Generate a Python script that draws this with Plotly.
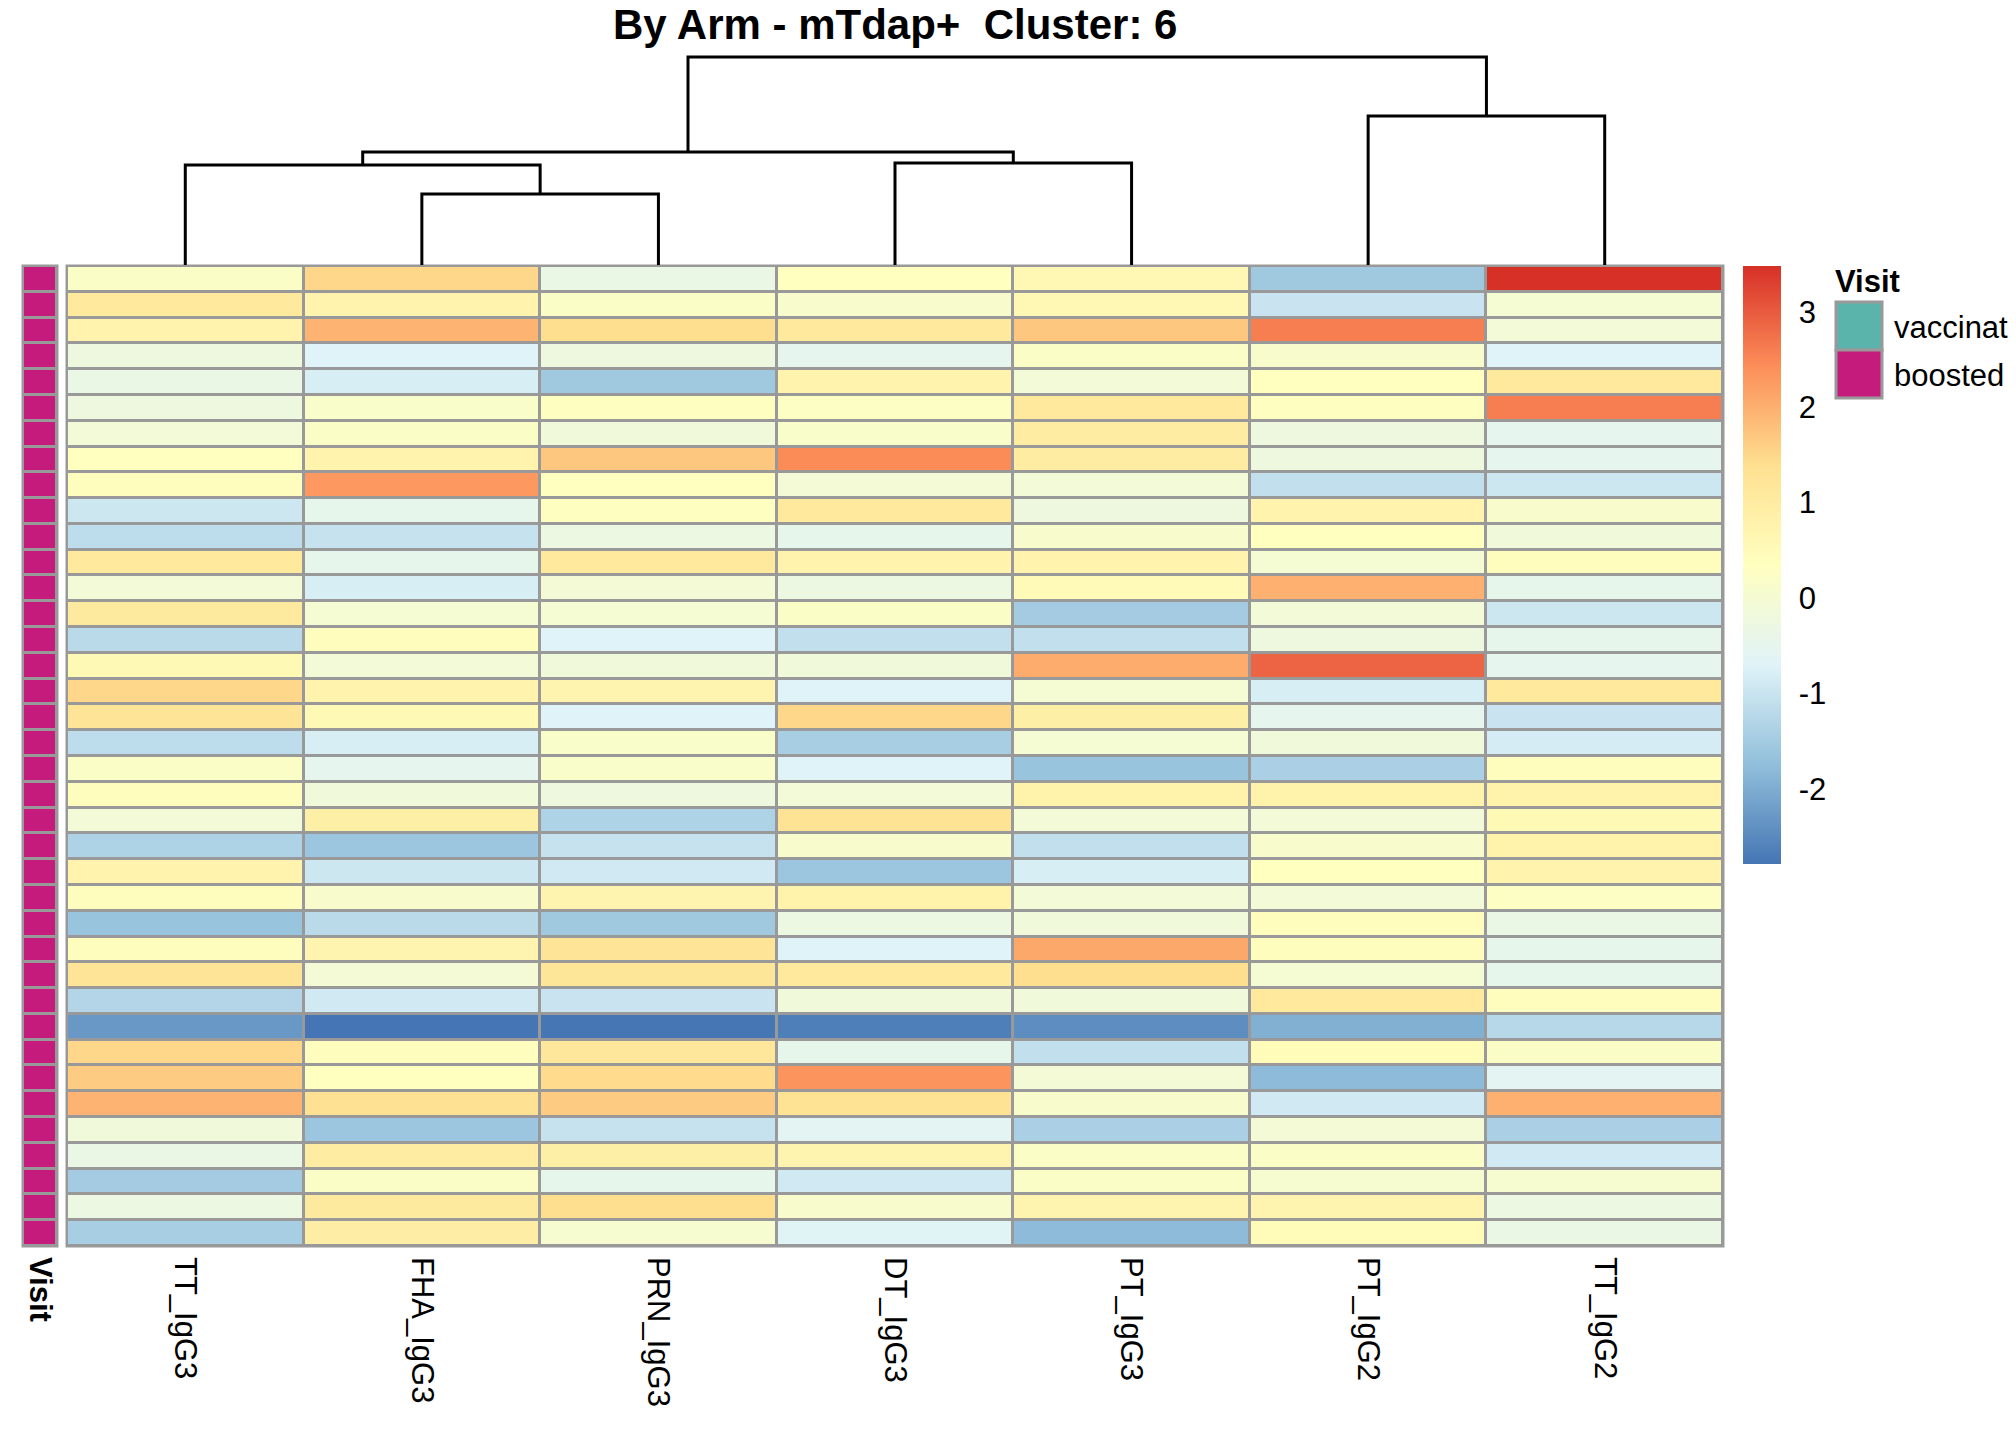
import plotly.graph_objects as go

# ---------------- data ----------------
title_text = "By Arm - mTdap+  Cluster: 6"
columns = ["TT_IgG3", "FHA_IgG3", "PRN_IgG3", "DT_IgG3", "PT_IgG3", "PT_IgG2", "TT_IgG2"]

TT_IgG3 = [0.2, 1.1, 0.75, -0.25, -0.35, -0.25, -0.1, 0.35, 0.4, -0.95, -1.15, 1.1, -0.1, 1.05, -1.2, 0.55, 1.5, 1.25, -1.15,
           0.2, 0.4, -0.1, -1.35, 0.75, 0.4, -1.65, 0.4, 1.25, -1.3, -2.3, 1.5, 1.65, 1.95, -0.15, -0.35, -1.5, -0.3, -1.45]
FHA_IgG3 = [1.5, 0.75, 1.95, -0.7, -0.8, 0.15, 0.2, 0.75, 2.3, -0.45, -1.05, -0.45, -0.8, 0.0, 0.4, -0.1, 0.75, 0.55, -0.8,
            -0.5, -0.15, 0.9, -1.6, -0.95, 0.1, -1.2, 0.7, -0.05, -0.9, -2.79, 0.4, 0.35, 1.35, -1.6, 1.0, 0.2, 1.05, 0.95]
PRN_IgG3 = [-0.35, 0.2, 1.4, -0.25, -1.55, 0.3, -0.15, 1.7, 0.35, 0.3, -0.3, 1.1, -0.05, 0.0, -0.7, -0.15, 0.7, -0.7, 0.15,
            0.15, -0.25, -1.35, -1.05, -0.9, 0.7, -1.55, 1.25, 1.2, -1.0, -2.78, 1.15, 1.45, 1.65, -1.05, 0.9, -0.45, 1.4, 0.05]
DT_IgG3 = [0.35, 0.1, 1.1, -0.5, 0.75, 0.25, 0.15, 2.45, -0.05, 1.1, -0.45, 0.75, -0.3, 0.2, -1.1, -0.15, -0.7, 1.5, -1.45,
           -0.7, -0.1, 1.3, 0.1, -1.6, 0.8, -0.3, -0.7, 1.1, -0.15, -2.65, -0.45, 2.35, 1.3, -0.6, 0.7, -0.9, 0.1, -0.65]
PT_IgG3 = [0.6, 0.6, 1.7, 0.2, -0.1, 1.1, 1.0, 1.0, -0.1, -0.25, 0.1, 0.75, 0.5, -1.5, -1.1, 2.05, 0.0, 0.9, 0.0,
           -1.65, 0.8, -0.1, -1.1, -0.8, -0.1, -0.15, 2.1, 1.4, -0.15, -2.45, -1.1, -0.05, 0.1, -1.4, 0.2, 0.2, 0.7, -1.8]
PT_IgG2 = [-1.55, -1.0, 2.6, 0.1, 0.35, 0.3, -0.25, -0.25, -1.1, 0.75, 0.35, 0.0, 2.0, -0.1, -0.25, 2.9, -0.8, -0.5, -0.15,
           -1.4, 0.8, -0.1, 0.1, 0.35, -0.1, 0.4, 0.4, 0.0, 1.1, -1.95, 0.45, -1.8, -0.9, -0.05, 0.2, 0.05, 0.7, 0.45]
TT_IgG2 = [3.48, 0.0, -0.1, -0.7, 1.1, 2.6, -0.5, -0.5, -0.95, 0.1, -0.15, 0.4, -0.45, -0.95, -0.45, -0.5, 1.1, -1.0, -0.85,
           0.4, 0.8, 0.55, 0.8, 0.75, 0.25, -0.35, -0.45, -0.45, 0.4, -1.25, 0.2, -0.6, 2.0, -1.4, -0.9, 0.05, -0.3, -0.35]

visit_levels = ["vaccinated", "boosted"]
visit_colors = ["#5AB4AC", "#C51B7D"]
visit = ["boosted"] * 38

# column dendrogram (hclust style: negative = leaf index, 1-based; positive = merge step)
merge_left = [-2, -1, -4, 2, -6, 4]
merge_right = [-3, 1, -5, 3, -7, 5]
merge_height = [71, 100, 102, 113, 149, 208]

colorbar_ticks = [-2, -1, 0, 1, 2, 3]
palette = ["#4575B4", "#91BFDB", "#E0F3F8", "#FFFFBF", "#FEE090", "#FC8D59", "#D73027"]

# ---------------- geometry helpers ----------------
W, H = 2016, 1440
OFF = 8  # browser body margin
FONT = "Liberation Sans, Arial, sans-serif"


def px_x(p):
    return (p - OFF) / W


def px_y(p):
    return 1 - (p - OFF) / H


cols_data = [TT_IgG3, FHA_IgG3, PRN_IgG3, DT_IgG3, PT_IgG3, PT_IgG2, TT_IgG2]
z = [list(r) for r in zip(*cols_data)]
nrow, ncol = len(z), len(columns)
zmin = min(min(c) for c in cols_data)
zmax = max(max(c) for c in cols_data)
cscale = [[i / (len(palette) - 1), c] for i, c in enumerate(palette)]

hm_x0, hm_x1, hm_y0, hm_y1 = 67, 1723, 266, 1246
an_x0, an_x1 = 23, 57
dg_top, dg_base = 55, 265

fig = go.Figure()

fig.add_trace(go.Heatmap(
    z=z, x=list(range(ncol)), y=list(range(nrow)),
    colorscale=cscale, zmin=zmin, zmax=zmax, xgap=3, ygap=3,
    xaxis="x", yaxis="y",
    colorbar=dict(
        x=px_x(1743), xanchor="left", xref="paper", xpad=0,
        y=px_y(565), yanchor="middle", yref="paper", ypad=0,
        len=598, lenmode="pixels", thickness=38, thicknessmode="pixels",
        outlinewidth=0, tickvals=colorbar_ticks, ticktext=[str(t) for t in colorbar_ticks],
        ticks="outside", ticklen=12, tickcolor="rgba(0,0,0,0)",
        tickfont=dict(size=31, color="black", family=FONT),
    ),
    hoverinfo="skip",
))

visit_z = [[visit_levels.index(v)] for v in visit]
fig.add_trace(go.Heatmap(
    z=visit_z, x=[0], y=list(range(nrow)),
    colorscale=[[0, visit_colors[0]], [0.5, visit_colors[0]], [0.5, visit_colors[1]], [1, visit_colors[1]]],
    zmin=0, zmax=1, showscale=False, xgap=3, ygap=3,
    xaxis="x2", yaxis="y", hoverinfo="skip",
))

# dendrogram
node_x, node_h = [], []
dx, dy = [], []


def child(idx):
    if idx < 0:
        return -idx - 1, 0.0
    return node_x[idx - 1], node_h[idx - 1]


for l, r, h in zip(merge_left, merge_right, merge_height):
    xl, hl = child(l)
    xr, hr = child(r)
    dx += [xl, xl, xr, xr, None]
    dy += [hl, h, h, hr, None]
    node_x.append((xl + xr) / 2)
    node_h.append(h)

fig.add_trace(go.Scatter(x=dx, y=dy, mode="lines", line=dict(color="black", width=3),
                         xaxis="x", yaxis="y3", hoverinfo="skip", showlegend=False))

# background (cell borders)
shapes = [
    dict(type="rect", xref="paper", yref="paper", layer="below",
         x0=px_x(hm_x0 - 1.5), x1=px_x(hm_x1 + 1.5), y0=px_y(hm_y1 + 1.5), y1=px_y(hm_y0 - 1.5),
         fillcolor="#999999", line=dict(width=0)),
    dict(type="rect", xref="paper", yref="paper", layer="below",
         x0=px_x(an_x0 - 1.5), x1=px_x(an_x1 + 1.5), y0=px_y(hm_y1 + 1.5), y1=px_y(hm_y0 - 1.5),
         fillcolor="#999999", line=dict(width=0)),
]

# Visit legend
annotations = [
    dict(text="<b>" + title_text + "</b>", x=px_x((hm_x0 + hm_x1) / 2), y=px_y(25), xref="paper", yref="paper",
         showarrow=False, xanchor="center", yanchor="middle", font=dict(size=42, color="black", family=FONT)),
    dict(text="<b>Visit</b>", x=px_x(1833), y=px_y(281), xref="paper", yref="paper",
         showarrow=False, xanchor="left", yanchor="middle", font=dict(size=31, color="black", family=FONT)),
]
sw_top = 302
for i, (lev, col) in enumerate(zip(visit_levels, visit_colors)):
    y0 = sw_top + i * 48
    shapes.append(dict(type="rect", xref="paper", yref="paper",
                       x0=px_x(1836), x1=px_x(1882), y0=px_y(y0 + 48), y1=px_y(y0),
                       fillcolor=col, line=dict(color="#999999", width=3)))
    annotations.append(dict(text=lev, x=px_x(1892), y=px_y(y0 + 25), xref="paper", yref="paper",
                            showarrow=False, xanchor="left", yanchor="middle",
                            font=dict(size=31, color="black", family=FONT)))

fig.update_layout(
    width=W, height=H, autosize=False,
    margin=dict(l=0, r=0, t=0, b=0, pad=0),
    paper_bgcolor="white", plot_bgcolor="white",
    font=dict(family=FONT, color="black"),
    showlegend=False,
    xaxis=dict(domain=[px_x(hm_x0), px_x(hm_x1)], range=[-0.5, ncol - 0.5], anchor="y",
               tickvals=list(range(ncol)), ticktext=columns, tickangle=90,
               tickfont=dict(size=31, color="black", family=FONT), ticks="", ticklabelstandoff=10,
               showgrid=False, zeroline=False, showline=False, fixedrange=True),
    xaxis2=dict(domain=[px_x(an_x0), px_x(an_x1)], range=[-0.5, 0.5], anchor="y",
                tickvals=[0], ticktext=["<b>Visit</b>"], tickangle=90,
                tickfont=dict(size=31, color="black", family=FONT), ticks="", ticklabelstandoff=10,
                showgrid=False, zeroline=False, showline=False),
    yaxis=dict(domain=[px_y(hm_y1), px_y(hm_y0)], range=[nrow - 0.5, -0.5], anchor="x",
               showticklabels=False, ticks="", showgrid=False, zeroline=False, showline=False),
    yaxis3=dict(domain=[px_y(dg_base), px_y(dg_top)], range=[0, max(merge_height) * 1.01], anchor="x",
                visible=False, showgrid=False, zeroline=False),
    shapes=shapes,
    annotations=annotations,
)

fig.write_html("out.html")
